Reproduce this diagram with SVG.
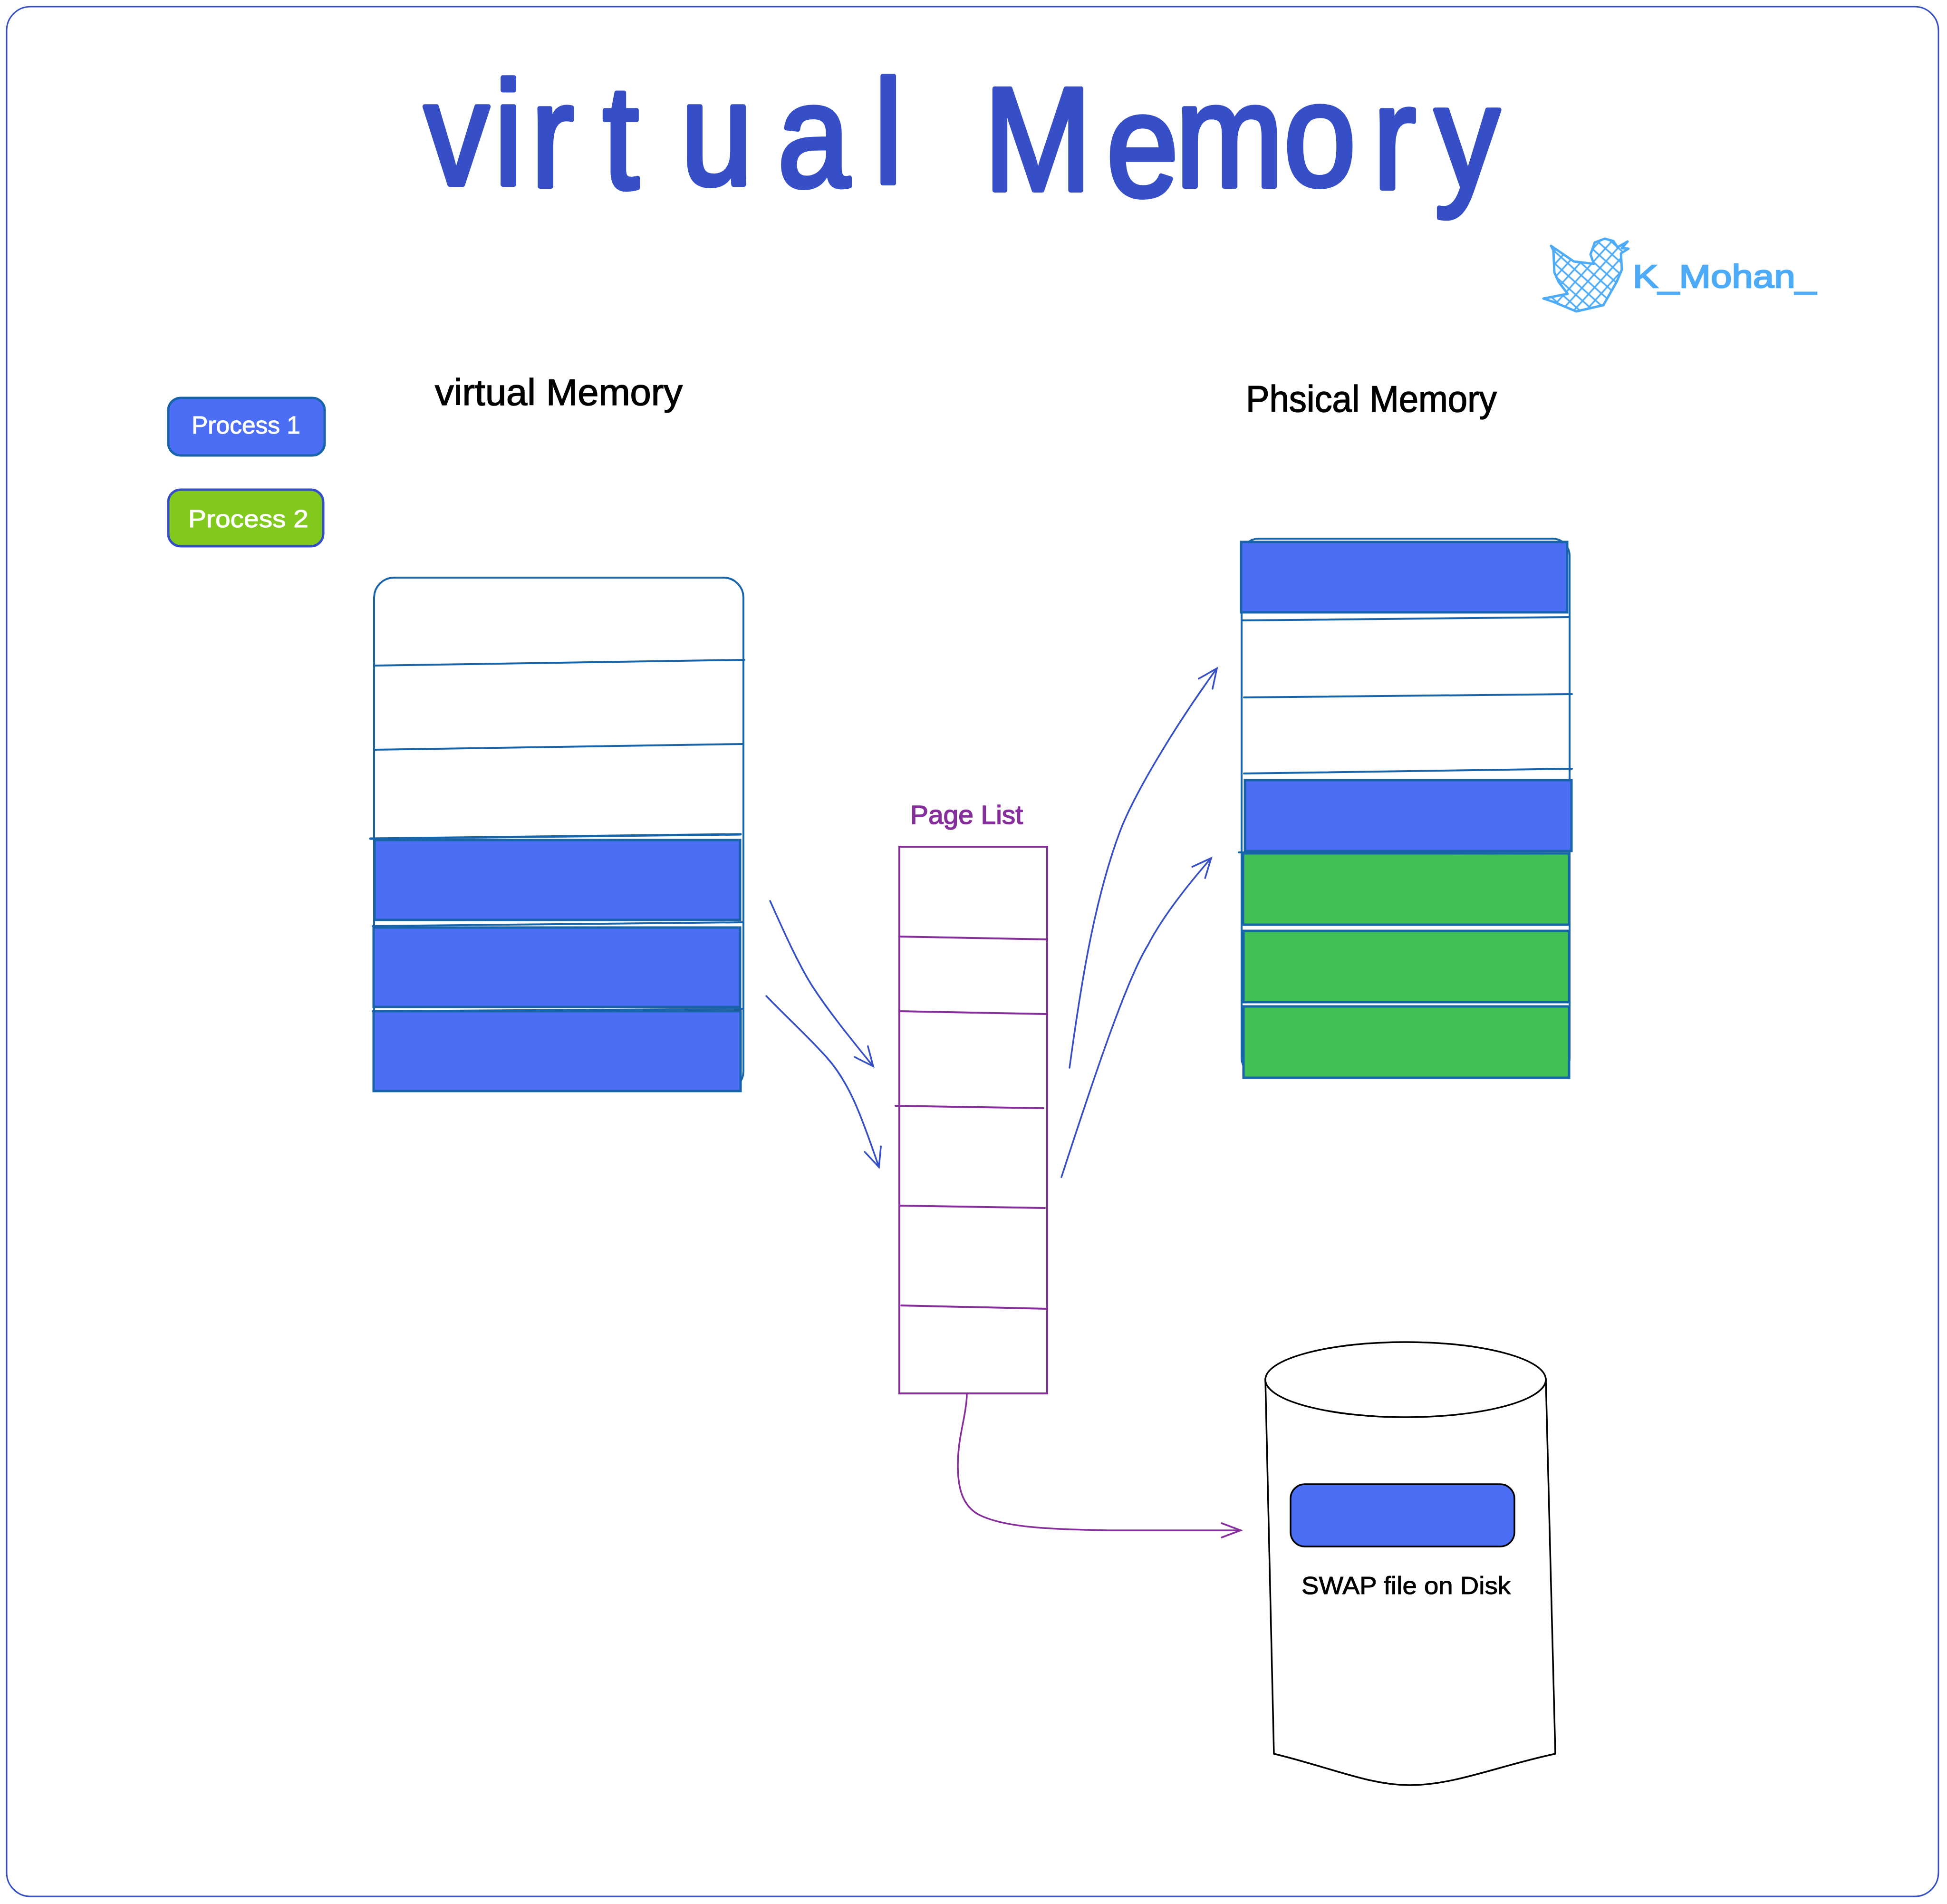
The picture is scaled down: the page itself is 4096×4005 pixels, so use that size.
<svg xmlns="http://www.w3.org/2000/svg" width="4096" height="4005" viewBox="0 0 4096 4005">
<style>
text{font-family:"Liberation Sans",Arial,sans-serif}
.title{font-size:310px;fill:#364fc7;stroke:#364fc7;stroke-width:10px;stroke-linejoin:round}
.lbl{font-size:78px;fill:#000;stroke:#000;stroke-width:1.5px}
.wht{font-size:52px;fill:#fff;stroke:#fff;stroke-width:1px}
.box{fill:#fff;stroke:#1864ab;stroke-width:4px}
.ln{fill:none;stroke:#1864ab;stroke-width:4px;stroke-linecap:round}
.bl{fill:#4c6ef5;stroke:#1864ab;stroke-width:5px}
.gr{fill:#40c057;stroke:#1864ab;stroke-width:5px}
.pl{fill:none;stroke:#862e9c;stroke-width:4px;stroke-linecap:round}
.arr{fill:none;stroke:#364fc7;stroke-width:3.5px;stroke-linecap:round;marker-end:url(#hb)}
.arp{fill:none;stroke:#862e9c;stroke-width:3.5px;stroke-linecap:round;marker-end:url(#hp)}
.blk{fill:#fff;stroke:#000;stroke-width:3.5px}
</style>
<defs>
<marker id="hb" markerUnits="userSpaceOnUse" markerWidth="60" markerHeight="60" refX="50" refY="30" orient="auto" overflow="visible"><path d="M10 12L50 30L10 48" fill="none" stroke="#364fc7" stroke-width="3.5" stroke-linecap="round"/></marker>
<marker id="hp" markerUnits="userSpaceOnUse" markerWidth="60" markerHeight="60" refX="50" refY="30" orient="auto" overflow="visible"><path d="M10 15L50 30L10 45" fill="none" stroke="#862e9c" stroke-width="3.5" stroke-linecap="round"/></marker>
<pattern id="hatch" width="19" height="19" patternUnits="userSpaceOnUse" patternTransform="rotate(42)"><path d="M0 9.5H19M9.5 0V19" stroke="#4dabf7" stroke-width="3.5" fill="none"/></pattern>
</defs>
<rect width="4096" height="4005" fill="#fff"/>
<rect id="frame" x="14" y="14" width="4064" height="3975" rx="50" fill="none" stroke="#364fc7" stroke-width="3"/>

<g id="title"><text class="title" transform="scale(.88 1)" x="1014 1181 1269 1441 1627 1859 2089 2159 2352 2645 2810 3069 3282 3430" y="388 388 392 396 388 392 385 390 400 412 392 390 396 395">virtual Memory</text></g>

<g id="twitter">
<path d="M3263 517L3311 550L3353 555L3346 535L3355 510L3376 502L3394 507L3403 520L3424 508L3412 522L3426 523L3410 533L3412 567L3401 593L3373 642L3316 655L3268 635L3247 628L3298 618L3279 593L3270 573L3268 527Z" fill="url(#hatch)" stroke="#4dabf7" stroke-width="5" stroke-linejoin="round"/>
<text x="3435" y="605" font-size="68" fill="#4dabf7" stroke="#4dabf7" stroke-width="2.5" textLength="386" lengthAdjust="spacingAndGlyphs">K_Mohan_</text>
</g>

<g id="process1"><rect x="354" y="837" width="329" height="121" rx="26" fill="#4c6ef5" stroke="#1864ab" stroke-width="5"/><text class="wht" x="403" y="912" textLength="229" lengthAdjust="spacingAndGlyphs">Process 1</text></g>
<g id="process2"><rect x="354" y="1030" width="326" height="119" rx="26" fill="#82c91e" stroke="#364fc7" stroke-width="5"/><text class="wht" x="396" y="1109" textLength="253" lengthAdjust="spacingAndGlyphs">Process 2</text></g>

<g id="virtual-label"><text class="lbl" x="915" y="852" textLength="521" lengthAdjust="spacingAndGlyphs">virtual Memory</text></g>
<g id="physical-label"><text class="lbl" x="2621" y="866" textLength="528" lengthAdjust="spacingAndGlyphs">Phsical Memory</text></g>

<g id="virtual-memory">
<rect class="box" x="787" y="1215" width="777" height="1080" rx="42"/>
<path class="ln" d="M789 1400L1566 1388M789 1577L1564 1565"/>
<path class="ln" d="M779 1764L1558 1755" style="stroke-width:5px"/>
<rect class="bl" x="788" y="1767" width="769" height="168"/>
<path class="ln" d="M784 1948L1562 1940"/>
<rect class="bl" x="786" y="1951" width="771" height="167"/>
<path class="ln" d="M784 2127L1562 2122"/>
<rect class="bl" x="786" y="2127" width="772" height="168"/>
</g>

<g id="physical-memory">
<rect class="box" x="2612" y="1133" width="690" height="1128" rx="36"/>
<rect class="bl" x="2611" y="1140" width="686" height="148"/>
<path class="ln" d="M2612 1305L3302 1298M2617 1467L3307 1460M2617 1627L3307 1617"/>
<rect class="bl" x="2619" y="1641" width="687" height="149"/>
<path class="ln" d="M2606 1793L3306 1790"/>
<rect class="gr" x="2615" y="1795" width="686" height="150"/>
<rect class="gr" x="2616" y="1958" width="685" height="150"/>
<rect class="gr" x="2616" y="2117" width="685" height="150"/>
</g>

<g id="page-list">
<text x="1915" y="1733" font-size="56" fill="#862e9c" stroke="#862e9c" stroke-width="1.5" textLength="237" lengthAdjust="spacingAndGlyphs">Page List</text>
<rect x="1892" y="1781" width="311" height="1150" fill="#fff" stroke="#862e9c" stroke-width="4"/>
<path class="pl" d="M1892 1970L2201 1976M1892 2127L2201 2133M1884 2326L2195 2331M1892 2536L2198 2541M1896 2746L2203 2753"/>
</g>

<g id="swap">
<path class="blk" d="M2662 2901L2680 3689C2800 3718 2880 3755 2965 3755C3060 3755 3150 3715 3272 3689L3252 2901Z"/>
<ellipse class="blk" cx="2957" cy="2902" rx="295" ry="79"/>
<rect x="2715" y="3122" width="471" height="131" rx="30" fill="#4c6ef5" stroke="#000" stroke-width="3.5"/>
<text x="2738" y="3353" font-size="52" fill="#000" stroke="#000" stroke-width="1" textLength="440" lengthAdjust="spacingAndGlyphs">SWAP file on Disk</text>
</g>

<g id="connectors">
<path class="arr" d="M1620 1895C1645 1950 1675 2020 1708 2073C1745 2130 1790 2185 1837 2243"/>
<path class="arr" d="M1612 2095C1650 2135 1700 2180 1739 2224C1785 2275 1810 2340 1849 2455"/>
<path class="arr" d="M2250 2246C2272 2085 2300 1900 2355 1752C2385 1670 2480 1515 2560 1406"/>
<path class="arr" d="M2233 2476C2300 2270 2370 2060 2415 1988C2445 1930 2500 1860 2548 1805"/>
<path class="arp" d="M2034 2933C2034 2975 2015 3020 2015 3082C2015 3140 2030 3170 2059 3186C2110 3212 2200 3217 2330 3219L2610 3219"/>
</g>
</svg>
